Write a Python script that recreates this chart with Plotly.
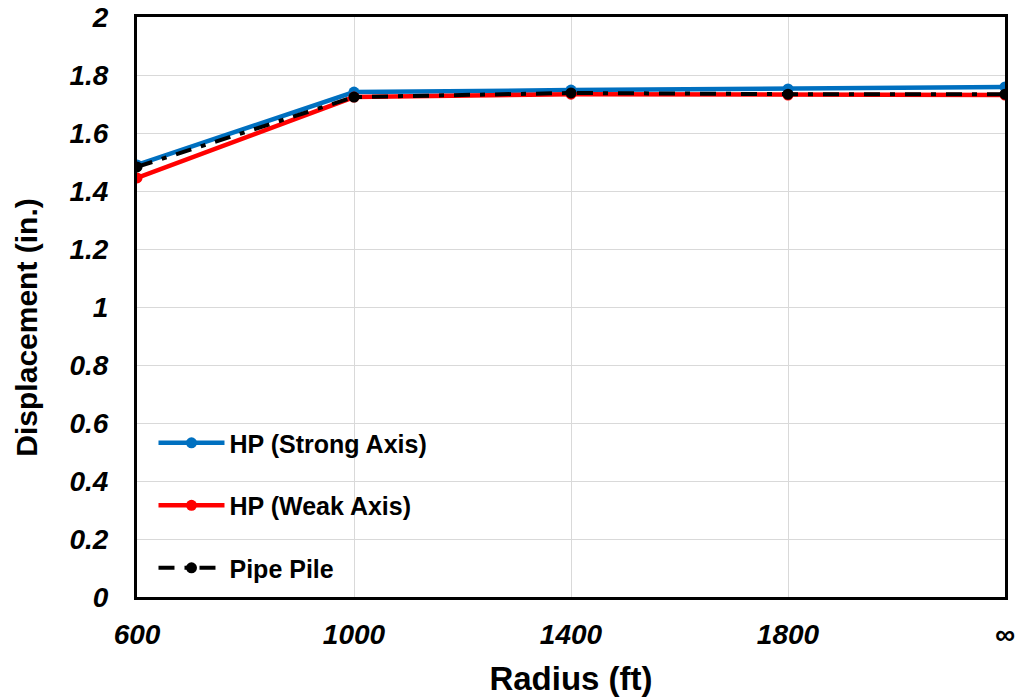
import plotly.graph_objects as go

radius = ["600", "1000", "1400", "1800", "∞"]
strong_axis = [1.49, 1.741, 1.748, 1.752, 1.759]
weak_axis = [1.445, 1.724, 1.734, 1.731, 1.731]
pipe_pile = [1.483, 1.724, 1.738, 1.734, 1.734]
y_ticks = [0, 0.2, 0.4, 0.6, 0.8, 1, 1.2, 1.4, 1.6, 1.8, 2]

fig = go.Figure()
fig.add_trace(go.Scatter(x=radius, y=strong_axis, name="HP (Strong Axis)", mode="lines+markers",
                         line=dict(color="#0070C0", width=4.5), marker=dict(size=11, color="#0070C0"),
                         legendgroup="a"))
fig.add_trace(go.Scatter(x=radius, y=weak_axis, name="HP (Weak Axis)", mode="lines+markers",
                         line=dict(color="#FF0000", width=4.5), marker=dict(size=11, color="#FF0000"),
                         legendgroup="b"))
fig.add_trace(go.Scatter(x=radius, y=pipe_pile, name="Pipe Pile", mode="lines+markers",
                         line=dict(color="black", width=4, dash="16px,10px,5px,10px"),
                         marker=dict(size=11, color="black"), legendgroup="c"))

tickfont = dict(family="Liberation Sans, Arial", size=28, color="black",
                weight="bold", style="italic")

fig.update_layout(
    width=1016, height=700,
    margin=dict(l=137, r=11, t=17, b=103),
    plot_bgcolor="white", paper_bgcolor="white",
    showlegend=True,
    legend=dict(x=0.019, y=0.305, xanchor="left", yanchor="top",
                font=dict(family="Liberation Sans, Arial", size=25, color="black", weight="bold"),
                bgcolor="rgba(0,0,0,0)", traceorder="grouped", tracegroupgap=27, itemwidth=66),
    annotations=[dict(text="Displacement (in.)", textangle=-90, xref="paper", yref="paper",
                      x=-0.127, y=0.464, xanchor="center", yanchor="middle", showarrow=False,
                      font=dict(family="Liberation Sans, Arial", size=30, color="black", weight="bold"))],
)
fig.update_xaxes(type="category", range=[0, 4], tickfont=tickfont, automargin=False,
                 showgrid=True, gridcolor="#D9D9D9", gridwidth=1, ticklabeloverflow="allow",
                 showline=True, linecolor="black", linewidth=3, mirror=True,
                 ticks="", ticklabelstandoff=10,
                 title=dict(text="Radius (ft)", standoff=19,
                            font=dict(family="Liberation Sans, Arial", size=33, color="black", weight="bold")))
fig.update_yaxes(range=[0, 2], tickvals=y_ticks, ticktext=[f"{v:g}" for v in y_ticks],
                 tickfont=tickfont, showgrid=True, gridcolor="#D9D9D9", gridwidth=1, automargin=False,
                 zeroline=False, showline=True, linecolor="black", linewidth=3, mirror=True,
                 ticks="", ticklabelstandoff=20, ticklabeloverflow="allow")

fig.write_html("out.html", config={"displayModeBar": False},
               post_script="document.body.style.margin='0';")
